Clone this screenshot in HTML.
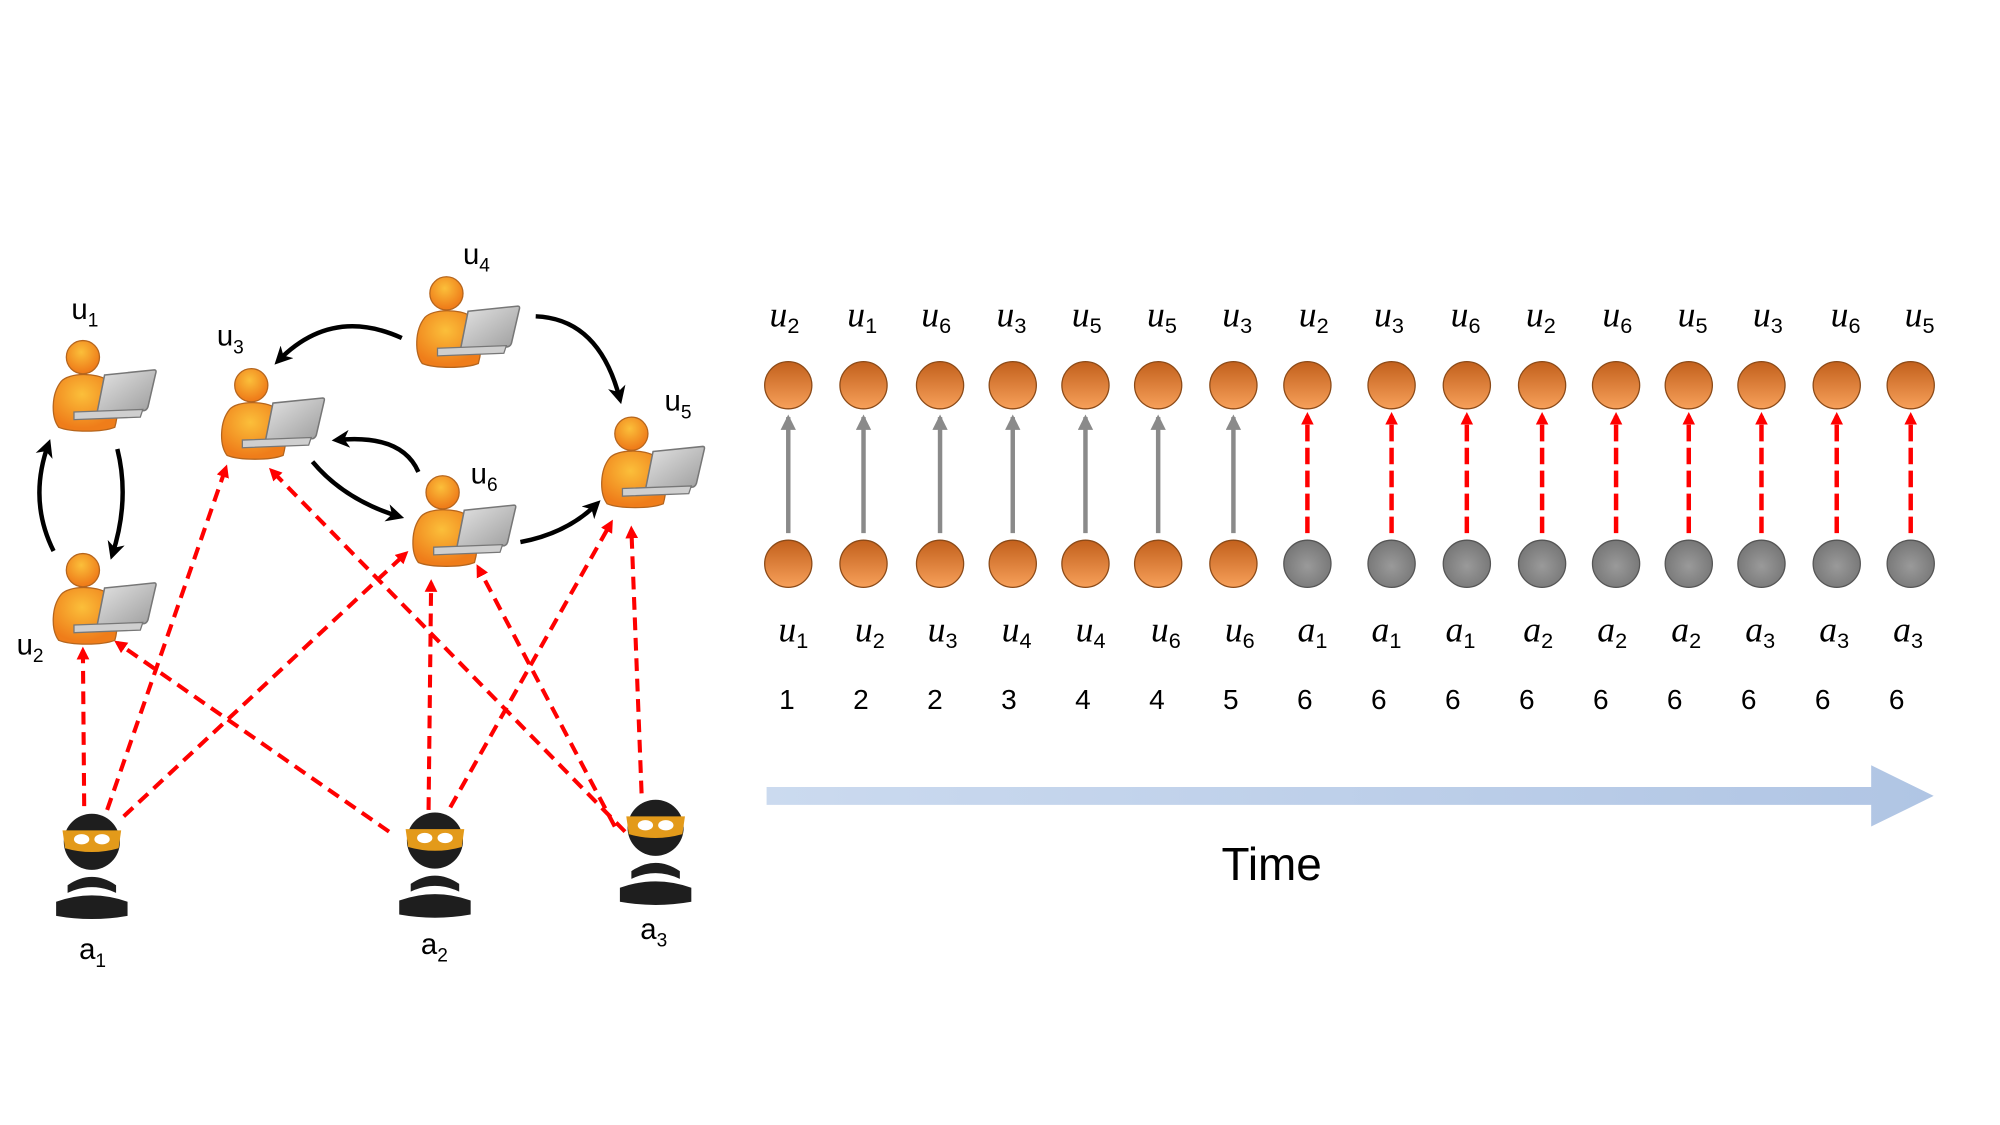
<!DOCTYPE html>
<html><head><meta charset="utf-8"><style>
html,body{margin:0;padding:0;background:#fff;width:2000px;height:1125px;overflow:hidden}
svg{display:block}
.lbl{font-family:"Liberation Sans",sans-serif;font-size:23px;fill:#000}
.sub{font-size:15px;font-style:normal}
.ml{font-family:"Liberation Serif",serif;font-style:italic;font-size:28px;fill:#000}
.ms{font-family:"Liberation Sans",sans-serif;font-style:normal;font-size:17px}
.num{font-family:"Liberation Sans",sans-serif;font-size:22px;fill:#000}
</style></head><body>
<svg width="2000" height="1125" viewBox="0 0 1568 882" preserveAspectRatio="none" xmlns="http://www.w3.org/2000/svg">
<defs>
<linearGradient id="og" x1="0" y1="0" x2="0" y2="1"><stop offset="0" stop-color="#c2601c"/><stop offset="1" stop-color="#f7a05a"/></linearGradient>
<radialGradient id="gg" cx="50%" cy="55%" r="60%"><stop offset="0" stop-color="#9a9a9a"/><stop offset="1" stop-color="#737373"/></radialGradient>
<radialGradient id="hg" cx="45%" cy="35%" r="60%"><stop offset="0" stop-color="#fbbf3a"/><stop offset="1" stop-color="#ef7d1a"/></radialGradient>
<linearGradient id="lg" x1="0" y1="0" x2="1" y2="1"><stop offset="0" stop-color="#e4e4e4"/><stop offset="1" stop-color="#9c9c9c"/></linearGradient>
<linearGradient id="tg" x1="0" y1="0" x2="1" y2="0"><stop offset="0" stop-color="#cbdaef"/><stop offset="1" stop-color="#b0c5e4"/></linearGradient>
<marker id="ra" markerWidth="10" markerHeight="10" refX="7" refY="5" orient="auto" markerUnits="userSpaceOnUse"><path d="M0,0 L10,5 L0,10 Z" fill="#f00"/></marker>
<marker id="ba" markerWidth="14" markerHeight="14" refX="10" refY="7" orient="auto" markerUnits="userSpaceOnUse"><path d="M0,0 L14,7 L0,14 L4,7 Z" fill="#000"/></marker>
<marker id="ga" markerWidth="12" markerHeight="14" refX="10" refY="6" orient="auto" markerUnits="userSpaceOnUse"><path d="M0,0 L12,6 L0,12 Z" fill="#8a8a8a"/></marker>
<symbol id="user" viewBox="0 0 82 73" overflow="visible">
<path d="M6,70 C0,62 0,44 8,34 C14,27 36,27 44,33 C52,40 54,56 50,70 C40,74 16,74 6,70 Z" fill="url(#hg)" stroke="#b5651d" stroke-width="1"/>
<circle cx="25" cy="15" r="13" fill="url(#hg)" stroke="#b5651d" stroke-width="1"/>
<path d="M42,29 L81,25 Q83,25 82,28 L76,54 Q75,57 72,57 L36,59 Z" fill="url(#lg)" stroke="#777" stroke-width="1.2"/>
<path d="M18,58 L72,56 L70,62 L18,64 Z" fill="#cfcfcf" stroke="#777" stroke-width="1"/>
</symbol>
<symbol id="thief" viewBox="0 0 58 83" overflow="visible">
<circle cx="29" cy="23" r="22" fill="#1e1e1e"/>
<path d="M6,14 L52,14 L50,28 Q29,34 8,28 Z" fill="#e39a1a"/>
<ellipse cx="21" cy="21" rx="6" ry="4" fill="#fff"/>
<ellipse cx="37" cy="21" rx="6" ry="4" fill="#fff"/>
<path d="M10,57 Q29,44 48,57 L48,63 Q29,54 10,63 Z" fill="#1e1e1e"/>
<path d="M1,70 Q29,60 57,70 L57,81 Q29,86 1,81 Z" fill="#1e1e1e"/>
</symbol>
</defs>

<g stroke="#f00" stroke-width="3.2" stroke-dasharray="10,6" fill="none" marker-end="url(#ra)">
<line x1="66" y1="632" x2="65" y2="510"/>
<line x1="84" y1="635" x2="177" y2="367"/>
<line x1="97" y1="640" x2="318" y2="434"/>
<line x1="305" y1="652" x2="92" y2="504"/>
<line x1="336" y1="635" x2="338" y2="457"/>
<line x1="353" y1="633" x2="479" y2="410"/>
<line x1="490" y1="652" x2="213" y2="369"/>
<line x1="482" y1="648" x2="375" y2="445"/>
<line x1="503" y1="622" x2="495" y2="415"/>
</g>
<g stroke="#000" stroke-width="3.5" fill="none" marker-end="url(#ba)">
<path d="M42,432 Q22,392 38,348"/>
<path d="M92,352 Q102,392 88,435"/>
<path d="M315,265 Q260,240 218,283"/>
<path d="M420,248 Q470,250 486,313"/>
<path d="M328,370 Q315,340 264,345"/>
<path d="M245,362 Q270,392 313,405"/>
<path d="M408,425 Q445,418 468,395"/>
</g>
<use href="#user" x="40" y="265" width="82" height="73"/>
<use href="#user" x="40" y="432" width="82" height="73"/>
<use href="#user" x="172" y="287" width="82" height="73"/>
<use href="#user" x="325" y="215" width="82" height="73"/>
<use href="#user" x="322" y="371" width="82" height="73"/>
<use href="#user" x="470" y="325" width="82" height="73"/>
<use href="#thief" x="43" y="637" width="58" height="83"/>
<use href="#thief" x="312" y="636" width="58" height="83"/>
<use href="#thief" x="485" y="626" width="58" height="83"/>
<g class="lbl">
<text x="56" y="250">u<tspan class="sub" dy="6">1</tspan></text>
<text x="13" y="513">u<tspan class="sub" dy="6">2</tspan></text>
<text x="170" y="271">u<tspan class="sub" dy="6">3</tspan></text>
<text x="363" y="207">u<tspan class="sub" dy="6">4</tspan></text>
<text x="521" y="322">u<tspan class="sub" dy="6">5</tspan></text>
<text x="369" y="379">u<tspan class="sub" dy="6">6</tspan></text>
<text x="62" y="752">a<tspan class="sub" dy="6">1</tspan></text>
<text x="330" y="748">a<tspan class="sub" dy="6">2</tspan></text>
<text x="502" y="736">a<tspan class="sub" dy="6">3</tspan></text>
</g>

<g>
<g stroke="#8a8a8a" stroke-width="3.5" marker-end="url(#ga)">
<line x1="618" y1="418" x2="618" y2="327"/>
<line x1="677" y1="418" x2="677" y2="327"/>
<line x1="737" y1="418" x2="737" y2="327"/>
<line x1="794" y1="418" x2="794" y2="327"/>
<line x1="851" y1="418" x2="851" y2="327"/>
<line x1="908" y1="418" x2="908" y2="327"/>
<line x1="967" y1="418" x2="967" y2="327"/>
</g>
<g stroke="#f00" stroke-width="3.5" stroke-dasharray="13,5" marker-end="url(#ra)">
<line x1="1025" y1="418" x2="1025" y2="326"/>
<line x1="1091" y1="418" x2="1091" y2="326"/>
<line x1="1150" y1="418" x2="1150" y2="326"/>
<line x1="1209" y1="418" x2="1209" y2="326"/>
<line x1="1267" y1="418" x2="1267" y2="326"/>
<line x1="1324" y1="418" x2="1324" y2="326"/>
<line x1="1381" y1="418" x2="1381" y2="326"/>
<line x1="1440" y1="418" x2="1440" y2="326"/>
<line x1="1498" y1="418" x2="1498" y2="326"/>
</g>
<g stroke="#8b4a18" stroke-width="1" fill="url(#og)">
<circle cx="618" cy="302" r="18.5"/><circle cx="677" cy="302" r="18.5"/><circle cx="737" cy="302" r="18.5"/><circle cx="794" cy="302" r="18.5"/><circle cx="851" cy="302" r="18.5"/><circle cx="908" cy="302" r="18.5"/><circle cx="967" cy="302" r="18.5"/><circle cx="1025" cy="302" r="18.5"/><circle cx="1091" cy="302" r="18.5"/><circle cx="1150" cy="302" r="18.5"/><circle cx="1209" cy="302" r="18.5"/><circle cx="1267" cy="302" r="18.5"/><circle cx="1324" cy="302" r="18.5"/><circle cx="1381" cy="302" r="18.5"/><circle cx="1440" cy="302" r="18.5"/><circle cx="1498" cy="302" r="18.5"/>
<circle cx="618" cy="442" r="18.5"/><circle cx="677" cy="442" r="18.5"/><circle cx="737" cy="442" r="18.5"/><circle cx="794" cy="442" r="18.5"/><circle cx="851" cy="442" r="18.5"/><circle cx="908" cy="442" r="18.5"/><circle cx="967" cy="442" r="18.5"/>
</g>
<g stroke="#555" stroke-width="1" fill="url(#gg)">
<circle cx="1025" cy="442" r="18.5"/><circle cx="1091" cy="442" r="18.5"/><circle cx="1150" cy="442" r="18.5"/><circle cx="1209" cy="442" r="18.5"/><circle cx="1267" cy="442" r="18.5"/><circle cx="1324" cy="442" r="18.5"/><circle cx="1381" cy="442" r="18.5"/><circle cx="1440" cy="442" r="18.5"/><circle cx="1498" cy="442" r="18.5"/>
</g>
<g class="ml" text-anchor="middle">
<text x="615" y="256">u<tspan class="ms" dy="5">2</tspan></text>
<text x="676" y="256">u<tspan class="ms" dy="5">1</tspan></text>
<text x="734" y="256">u<tspan class="ms" dy="5">6</tspan></text>
<text x="793" y="256">u<tspan class="ms" dy="5">3</tspan></text>
<text x="852" y="256">u<tspan class="ms" dy="5">5</tspan></text>
<text x="911" y="256">u<tspan class="ms" dy="5">5</tspan></text>
<text x="970" y="256">u<tspan class="ms" dy="5">3</tspan></text>
<text x="1030" y="256">u<tspan class="ms" dy="5">2</tspan></text>
<text x="1089" y="256">u<tspan class="ms" dy="5">3</tspan></text>
<text x="1149" y="256">u<tspan class="ms" dy="5">6</tspan></text>
<text x="1208" y="256">u<tspan class="ms" dy="5">2</tspan></text>
<text x="1268" y="256">u<tspan class="ms" dy="5">6</tspan></text>
<text x="1327" y="256">u<tspan class="ms" dy="5">5</tspan></text>
<text x="1386" y="256">u<tspan class="ms" dy="5">3</tspan></text>
<text x="1447" y="256">u<tspan class="ms" dy="5">6</tspan></text>
<text x="1505" y="256">u<tspan class="ms" dy="5">5</tspan></text>
<text x="622" y="503">u<tspan class="ms" dy="5">1</tspan></text>
<text x="682" y="503">u<tspan class="ms" dy="5">2</tspan></text>
<text x="739" y="503">u<tspan class="ms" dy="5">3</tspan></text>
<text x="797" y="503">u<tspan class="ms" dy="5">4</tspan></text>
<text x="855" y="503">u<tspan class="ms" dy="5">4</tspan></text>
<text x="914" y="503">u<tspan class="ms" dy="5">6</tspan></text>
<text x="972" y="503">u<tspan class="ms" dy="5">6</tspan></text>
<text x="1029" y="503">a<tspan class="ms" dy="5">1</tspan></text>
<text x="1087" y="503">a<tspan class="ms" dy="5">1</tspan></text>
<text x="1145" y="503">a<tspan class="ms" dy="5">1</tspan></text>
<text x="1206" y="503">a<tspan class="ms" dy="5">2</tspan></text>
<text x="1264" y="503">a<tspan class="ms" dy="5">2</tspan></text>
<text x="1322" y="503">a<tspan class="ms" dy="5">2</tspan></text>
<text x="1380" y="503">a<tspan class="ms" dy="5">3</tspan></text>
<text x="1438" y="503">a<tspan class="ms" dy="5">3</tspan></text>
<text x="1496" y="503">a<tspan class="ms" dy="5">3</tspan></text>
</g>
<g class="num" text-anchor="middle">
<text x="617" y="556">1</text><text x="675" y="556">2</text><text x="733" y="556">2</text><text x="791" y="556">3</text><text x="849" y="556">4</text><text x="907" y="556">4</text><text x="965" y="556">5</text><text x="1023" y="556">6</text><text x="1081" y="556">6</text><text x="1139" y="556">6</text><text x="1197" y="556">6</text><text x="1255" y="556">6</text><text x="1313" y="556">6</text><text x="1371" y="556">6</text><text x="1429" y="556">6</text><text x="1487" y="556">6</text>
</g>
</g>
<path d="M601,617 L1467,617 L1467,600 L1516,624 L1467,648 L1467,631 L601,631 Z" fill="url(#tg)"/>
<text x="997" y="690" text-anchor="middle" font-family="Liberation Sans, sans-serif" font-size="36" fill="#000">Time</text>
</svg>
</body></html>
